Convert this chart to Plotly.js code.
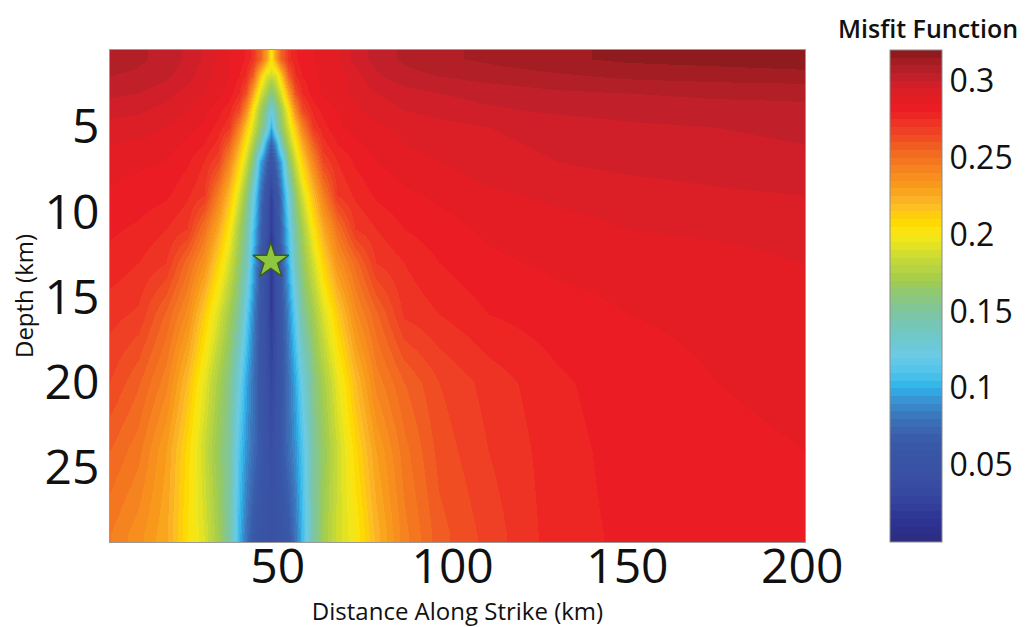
<!DOCTYPE html>
<html>
<head>
<meta charset="utf-8">
<script src="https://cdn.plot.ly/plotly-3.0.1.min.js"></script>
<style>
  html, body { margin: 0; padding: 0; background: #ffffff; }
  #chart { width: 1031px; height: 627px; }
</style>
</head>
<body>
<div id="chart"></div>
<script>
// Grid of the misfit surface: distance along strike (km) and depth (km)
const distanceKm = [2, 10, 18, 24, 29, 33, 36, 39, 41, 43, 45, 46.5, 48, 49.5, 51, 53, 55, 57, 60, 63, 67, 72, 78, 86, 96, 110, 130, 150, 175, 200];
const depthKm = [1, 2, 3, 4, 5, 6, 7, 9, 11, 13, 16, 20, 24, 29];

// Misfit value along each depth row (one entry per distance above)
const misfitAt1km  = [0.307, 0.306, 0.303, 0.299, 0.294, 0.289, 0.285, 0.283, 0.279, 0.272, 0.255, 0.232, 0.203, 0.232, 0.255, 0.272, 0.279, 0.283, 0.285, 0.286, 0.289, 0.297, 0.302, 0.306, 0.309, 0.311, 0.314, 0.316, 0.317, 0.318];
const misfitAt2km  = [0.305, 0.304, 0.301, 0.297, 0.292, 0.288, 0.285, 0.280, 0.274, 0.255, 0.215, 0.190, 0.185, 0.190, 0.215, 0.255, 0.274, 0.280, 0.284, 0.286, 0.287, 0.293, 0.299, 0.303, 0.305, 0.307, 0.309, 0.311, 0.312, 0.313];
const misfitAt3km  = [0.301, 0.300, 0.297, 0.293, 0.290, 0.287, 0.283, 0.275, 0.262, 0.227, 0.190, 0.173, 0.155, 0.173, 0.190, 0.227, 0.262, 0.275, 0.283, 0.286, 0.288, 0.291, 0.295, 0.298, 0.300, 0.302, 0.304, 0.305, 0.306, 0.306];
const misfitAt4km  = [0.297, 0.296, 0.293, 0.290, 0.287, 0.282, 0.277, 0.264, 0.238, 0.200, 0.171, 0.150, 0.125, 0.150, 0.171, 0.200, 0.238, 0.264, 0.277, 0.282, 0.285, 0.289, 0.292, 0.295, 0.297, 0.299, 0.301, 0.302, 0.303, 0.304];
const misfitAt5km  = [0.293, 0.292, 0.290, 0.287, 0.284, 0.278, 0.271, 0.243, 0.215, 0.188, 0.163, 0.138, 0.100, 0.138, 0.163, 0.188, 0.215, 0.243, 0.271, 0.278, 0.284, 0.287, 0.289, 0.291, 0.293, 0.295, 0.297, 0.299, 0.300, 0.301];
const misfitAt6km  = [0.290, 0.289, 0.287, 0.284, 0.280, 0.273, 0.256, 0.225, 0.200, 0.174, 0.143, 0.095, 0.070, 0.095, 0.143, 0.174, 0.200, 0.225, 0.256, 0.273, 0.280, 0.284, 0.287, 0.290, 0.292, 0.294, 0.296, 0.298, 0.299, 0.300];
const misfitAt7km  = [0.287, 0.286, 0.285, 0.281, 0.275, 0.266, 0.242, 0.211, 0.186, 0.157, 0.100, 0.075, 0.050, 0.075, 0.100, 0.157, 0.186, 0.211, 0.242, 0.266, 0.275, 0.281, 0.285, 0.288, 0.290, 0.293, 0.295, 0.297, 0.298, 0.299];
const misfitAt9km  = [0.284, 0.283, 0.281, 0.276, 0.270, 0.244, 0.219, 0.188, 0.163, 0.125, 0.081, 0.053, 0.025, 0.053, 0.081, 0.125, 0.163, 0.188, 0.219, 0.244, 0.270, 0.276, 0.281, 0.284, 0.286, 0.289, 0.291, 0.292, 0.294, 0.295];
const misfitAt11km = [0.281, 0.279, 0.275, 0.270, 0.249, 0.226, 0.202, 0.171, 0.150, 0.110, 0.073, 0.047, 0.020, 0.047, 0.073, 0.110, 0.150, 0.171, 0.202, 0.226, 0.249, 0.270, 0.275, 0.280, 0.283, 0.286, 0.288, 0.290, 0.291, 0.292];
const misfitAt13km = [0.278, 0.275, 0.270, 0.252, 0.235, 0.210, 0.188, 0.163, 0.140, 0.100, 0.066, 0.041, 0.015, 0.041, 0.066, 0.100, 0.140, 0.163, 0.188, 0.210, 0.235, 0.252, 0.270, 0.275, 0.280, 0.284, 0.286, 0.287, 0.288, 0.290];
const misfitAt16km = [0.272, 0.269, 0.254, 0.238, 0.213, 0.190, 0.170, 0.150, 0.117, 0.087, 0.060, 0.040, 0.020, 0.040, 0.060, 0.087, 0.117, 0.150, 0.170, 0.190, 0.213, 0.238, 0.254, 0.271, 0.275, 0.280, 0.283, 0.285, 0.286, 0.288];
const misfitAt20km = [0.265, 0.256, 0.242, 0.219, 0.194, 0.172, 0.156, 0.124, 0.098, 0.079, 0.059, 0.045, 0.030, 0.045, 0.059, 0.079, 0.098, 0.124, 0.156, 0.172, 0.194, 0.219, 0.242, 0.255, 0.265, 0.272, 0.279, 0.283, 0.285, 0.286];
const misfitAt24km = [0.255, 0.247, 0.230, 0.208, 0.185, 0.165, 0.150, 0.111, 0.091, 0.077, 0.062, 0.051, 0.040, 0.051, 0.062, 0.077, 0.091, 0.111, 0.150, 0.165, 0.185, 0.208, 0.230, 0.248, 0.262, 0.270, 0.278, 0.282, 0.284, 0.285];
const misfitAt29km = [0.245, 0.237, 0.226, 0.205, 0.190, 0.170, 0.148, 0.103, 0.080, 0.062, 0.054, 0.050, 0.048, 0.050, 0.054, 0.062, 0.080, 0.105, 0.148, 0.170, 0.187, 0.200, 0.222, 0.243, 0.258, 0.267, 0.278, 0.281, 0.283, 0.285];

// Best-fitting source location
const bestDistance = [48];
const bestDepth = [12.9];

// Tick labels
const distanceTicks = [50, 100, 150, 200];
const depthTicks = [5, 10, 15, 20, 25];
const misfitTicks = [0.05, 0.1, 0.15, 0.2, 0.25, 0.3];
const misfitTickText = ['0.05', '0.1', '0.15', '0.2', '0.25', '0.3'];

const misfitMin = 0;
const misfitMax = 0.32;

// Colour ramp anchors (misfit value -> colour), rendered as 64 flat bands
const rampAnchors = [
  [0.000, '#2b2d7f'], [0.012, '#2e3192'], [0.030, '#3547a0'], [0.050, '#3953a4'],
  [0.066, '#3a5aa9'], [0.080, '#3c72b9'], [0.094, '#3798d6'], [0.100, '#2cb3e8'],
  [0.110, '#4fc3ec'], [0.121, '#6bcbe6'], [0.135, '#70c7c4'], [0.149, '#7dc6a4'],
  [0.160, '#8cc778'], [0.170, '#a2cc4e'], [0.182, '#c0d73b'], [0.192, '#e2e224'],
  [0.200, '#f8e814'], [0.209, '#ffd700'], [0.220, '#fdb92b'], [0.229, '#f9a11b'],
  [0.240, '#f6891f'], [0.251, '#f36f21'], [0.262, '#f04e23'], [0.272, '#ee3324'],
  [0.282, '#ed1c24'], [0.294, '#da1f27'], [0.303, '#c0202a'], [0.312, '#a51d22'],
  [0.320, '#861a1c']
];

function hexToRgb(h) {
  return [parseInt(h.slice(1, 3), 16), parseInt(h.slice(3, 5), 16), parseInt(h.slice(5, 7), 16)];
}
function rampColor(v) {
  for (let i = 0; i < rampAnchors.length - 1; i++) {
    const a = rampAnchors[i], b = rampAnchors[i + 1];
    if (v >= a[0] && v <= b[0]) {
      const t = (v - a[0]) / (b[0] - a[0]);
      const ca = hexToRgb(a[1]), cb = hexToRgb(b[1]);
      const c = ca.map((x, k) => Math.round(x + (cb[k] - x) * t));
      return 'rgb(' + c.join(',') + ')';
    }
  }
  return rampAnchors[rampAnchors.length - 1][1];
}
const bands = 64;
const bandedScale = [];
for (let i = 0; i < bands; i++) {
  const mid = misfitMin + (i + 0.5) / bands * (misfitMax - misfitMin);
  const col = rampColor(mid);
  bandedScale.push([i / bands, col]);
  bandedScale.push([(i + 1) / bands, col]);
}

const plotLeft = 110, plotRight = 805, plotTop = 50, plotBottom = 542;
const plotW = plotRight - plotLeft, plotH = plotBottom - plotTop;
const font = 'Open Sans, Noto Sans, sans-serif';

const surface = {
  type: 'heatmap',
  x: distanceKm,
  y: depthKm,
  z: [misfitAt1km, misfitAt2km, misfitAt3km, misfitAt4km, misfitAt5km, misfitAt6km, misfitAt7km,
      misfitAt9km, misfitAt11km, misfitAt13km, misfitAt16km, misfitAt20km, misfitAt24km, misfitAt29km],
  zmin: misfitMin,
  zmax: misfitMax,
  zsmooth: 'best',
  colorscale: bandedScale,
  hoverinfo: 'skip',
  colorbar: {
    x: (890 - plotLeft) / plotW,
    xanchor: 'left',
    xpad: 0,
    y: 0.5,
    yanchor: 'middle',
    len: 1,
    ypad: 0,
    thickness: 52,
    outlinewidth: 1,
    outlinecolor: '#8c8c8c',
    tickvals: misfitTicks,
    ticktext: misfitTickText,
    ticks: '',
    tickfont: { family: font, size: 32, color: '#111111' }
  }
};

const star = {
  type: 'scatter',
  mode: 'markers',
  x: bestDistance,
  y: bestDepth,
  marker: { symbol: 'star', size: 27, color: '#8dc63f', line: { color: '#3d5a22', width: 1.5 } },
  hoverinfo: 'skip',
  showlegend: false
};

const layout = {
  width: 1031,
  height: 627,
  margin: { l: plotLeft, r: 1031 - plotRight, t: plotTop, b: 627 - plotBottom, pad: 0 },
  paper_bgcolor: '#ffffff',
  plot_bgcolor: '#ffffff',
  font: { family: font, color: '#111111' },
  showlegend: false,
  xaxis: {
    range: [2, 200.8],
    tickvals: distanceTicks,
    ticks: '',
    ticklabelstandoff: -18,
    showgrid: false,
    zeroline: false,
    showline: true,
    mirror: true,
    linecolor: '#9a9a9a',
    linewidth: 1,
    tickfont: { family: font, size: 48, color: '#111111' },
    title: { text: 'Distance Along Strike (km)', font: { family: font, size: 24, color: '#111111' }, standoff: 6 }
  },
  yaxis: {
    range: [29.4, 0.5],
    tickvals: depthTicks,
    ticks: '',
    showgrid: false,
    zeroline: false,
    showline: true,
    mirror: true,
    linecolor: '#9a9a9a',
    linewidth: 1,
    tickfont: { family: font, size: 48, color: '#111111' },
    title: { text: 'Depth (km)', font: { family: font, size: 24, color: '#111111' }, standoff: 4 }
  },
  annotations: [{
    text: 'Misfit Function',
    xref: 'paper', yref: 'paper',
    x: (928 - plotLeft) / plotW,
    y: 1 + (plotTop - 28) / plotH,
    xanchor: 'center', yanchor: 'middle',
    showarrow: false,
    font: { family: font, size: 25, color: '#111111', weight: 600 }
  }]
};

Plotly.newPlot('chart', [surface, star], layout, { displayModeBar: false, staticPlot: true });
</script>
</body>
</html>
